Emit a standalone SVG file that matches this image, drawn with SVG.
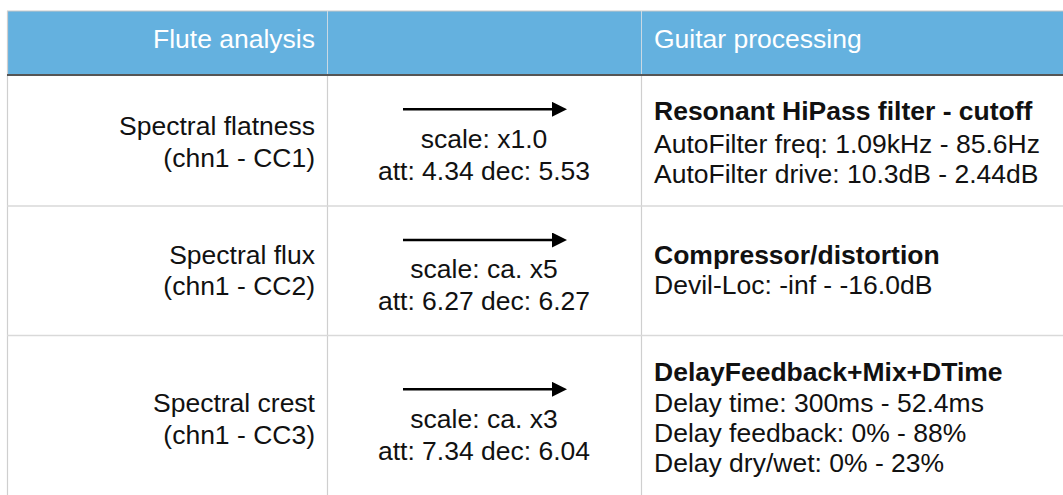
<svg xmlns="http://www.w3.org/2000/svg" width="1063" height="495" viewBox="0 0 1063 495">
<style>
text{font-family:"Liberation Sans",Arial,Helvetica,sans-serif;font-size:26.5px;fill:#111}
.hd{fill:#ffffff}
.b{font-weight:bold}
.r{text-anchor:end}
.c{text-anchor:middle}
.vl{stroke:#cfcfcf;stroke-width:1.2}
.hl{stroke:#d9d9d9;stroke-width:1.6}
.arrow{stroke:#000;stroke-width:2.6;fill:none}
</style>
<defs>
<marker id="ah" markerUnits="userSpaceOnUse" markerWidth="16" markerHeight="16" refX="4" refY="7.5" orient="auto">
<path d="M0,0 L15,7.5 L0,15 Z" fill="#000"/>
</marker>
</defs>
<rect x="0" y="0" width="1063" height="495" fill="#ffffff"/>
<g id="grid">
<rect x="7.5" y="11" width="1056" height="63.5" fill="#64b1df"/>
<line x1="7" y1="11" x2="1063" y2="11" stroke="#c8c8c8" stroke-width="1"/>
<line x1="327.5" y1="11" x2="327.5" y2="74" stroke="#c9d9e4" stroke-width="1"/>
<line x1="641.5" y1="11" x2="641.5" y2="74" stroke="#c9d9e4" stroke-width="1"/>
<line x1="7.5" y1="11" x2="7.5" y2="495" class="vl"/>
<line x1="327.5" y1="75" x2="327.5" y2="495" class="vl"/>
<line x1="641.5" y1="75" x2="641.5" y2="495" class="vl"/>
<line x1="7" y1="206" x2="1063" y2="206" class="hl"/>
<line x1="7" y1="335.5" x2="1063" y2="335.5" class="hl"/>
<line x1="7" y1="75" x2="1063" y2="75" stroke="#555555" stroke-width="1.8"/>
</g>
<g id="header-flute"><text class="hd r" x="315" y="48">Flute analysis</text></g>
<g id="header-guitar"><text class="hd" x="654" y="48">Guitar processing</text></g>
<g id="flute-1">
<text class="r" x="315" y="135">Spectral flatness</text>
<text class="r" x="315" y="166.5">(chn1 - CC1)</text>
</g>
<g id="flute-2">
<text class="r" x="315" y="263.5">Spectral flux</text>
<text class="r" x="315" y="295">(chn1 - CC2)</text>
</g>
<g id="flute-3">
<text class="r" x="315" y="412">Spectral crest</text>
<text class="r" x="315" y="443.5">(chn1 - CC3)</text>
</g>
<g id="guitar-1">
<text class="b" x="654" y="120">Resonant HiPass filter - cutoff</text>
<text x="654" y="152.5">AutoFilter freq: 1.09kHz - 85.6Hz</text>
<text x="654" y="182.5">AutoFilter drive: 10.3dB - 2.44dB</text>
</g>
<g id="guitar-2">
<text class="b" x="654" y="264">Compressor/distortion</text>
<text x="654" y="293.5">Devil-Loc: -inf - -16.0dB</text>
</g>
<g id="guitar-3">
<text class="b" x="654" y="381">DelayFeedback+Mix+DTime</text>
<text x="654" y="411.5">Delay time: 300ms - 52.4ms</text>
<text x="654" y="441.5">Delay feedback: 0% - 88%</text>
<text x="654" y="471.5">Delay dry/wet: 0% - 23%</text>
</g>
<g id="connectors">
<g id="map-1">
<line class="arrow" x1="403" y1="109.3" x2="556" y2="109.3" marker-end="url(#ah)"/>
<text class="c" x="484" y="148.3">scale: x1.0</text>
<text class="c" x="484" y="180">att: 4.34 dec: 5.53</text>
</g>
<g id="map-2">
<line class="arrow" x1="403" y1="240" x2="556" y2="240" marker-end="url(#ah)"/>
<text class="c" x="484" y="278.3">scale: ca. x5</text>
<text class="c" x="484" y="310">att: 6.27 dec: 6.27</text>
</g>
<g id="map-3">
<line class="arrow" x1="403" y1="389.3" x2="556" y2="389.3" marker-end="url(#ah)"/>
<text class="c" x="484" y="428.3">scale: ca. x3</text>
<text class="c" x="484" y="460">att: 7.34 dec: 6.04</text>
</g>
</g>
</svg>
